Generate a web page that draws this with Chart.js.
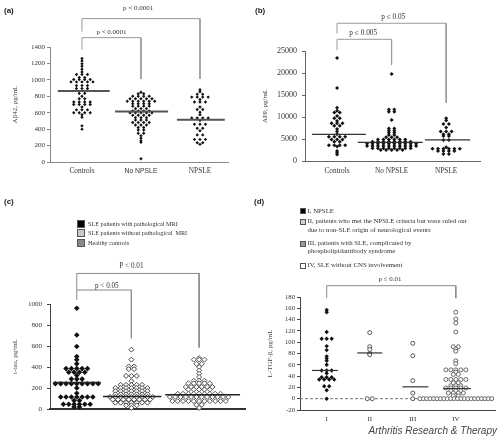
<!DOCTYPE html>
<html><head><meta charset="utf-8">
<script src="https://cdn.jsdelivr.net/npm/chart.js@4.4.1/dist/chart.umd.min.js"></script>
<style>
html,body{margin:0;padding:0;background:#fff;}
#wrap{position:relative;width:500px;height:443px;overflow:hidden;background:#fff;}
canvas{position:absolute;}
.t{position:absolute;white-space:nowrap;font-family:"Liberation Serif",serif;color:#333;line-height:1;}
.plab{position:absolute;font-family:"Liberation Sans",Arial,sans-serif;font-weight:bold;font-size:8px;color:#222;line-height:1;}
.sw{position:absolute;box-sizing:border-box;border:1px solid #555;}
.foot{position:absolute;right:3px;top:426px;font-family:"Liberation Sans",Arial,sans-serif;font-style:italic;font-size:10px;color:#444;line-height:1;white-space:nowrap;}
</style></head><body><div id="wrap">
<canvas id="ca" width="250" height="200" style="left:0;top:0"></canvas>
<canvas id="cb" width="250" height="200" style="left:250px;top:0"></canvas>
<canvas id="cc" width="250" height="243" style="left:0;top:200px"></canvas>
<canvas id="cd" width="250" height="243" style="left:250px;top:200px"></canvas>

<div class="plab" style="left:4px;top:7px">(a)</div>
<div class="plab" style="left:255px;top:7px">(b)</div>
<div class="plab" style="left:4px;top:198px">(c)</div>
<div class="plab" style="left:254px;top:198px">(d)</div>

<div class="sw" style="left:77px;top:220px;width:8px;height:8px;background:#000"></div>
<div class="t" style="left:88px;top:221px;font-size:6.2px">SLE patients with pathological MRI</div>
<div class="sw" style="left:77px;top:229px;width:8px;height:8px;background:#c8c8c8"></div>
<div class="t" style="left:88px;top:230px;font-size:6.2px">SLE patients without pathological&nbsp; MRI</div>
<div class="sw" style="left:77px;top:239px;width:8px;height:8px;background:#8a8a8a"></div>
<div class="t" style="left:88px;top:240px;font-size:6.2px">Healthy controls</div>

<div class="sw" style="left:300px;top:208px;width:6px;height:6px;background:#000"></div>
<div class="t" style="left:307.5px;top:207.5px;font-size:6.8px">I, NPSLE</div>
<div class="sw" style="left:300px;top:219px;width:6px;height:6px;background:#cfcfcf"></div>
<div class="t" style="left:307.5px;top:218px;font-size:6.8px">II, patients who met the NPSLE criteria but were ruled out</div>
<div class="t" style="left:307.5px;top:226.5px;font-size:6.8px">due to non-SLE origin of neurological events</div>
<div class="sw" style="left:300px;top:240.5px;width:6px;height:6px;background:#9a9a9a"></div>
<div class="t" style="left:307.5px;top:240px;font-size:6.8px">III, patients with SLE, complicated by</div>
<div class="t" style="left:307.5px;top:248px;font-size:6.8px">phospholipidantibody syndrome</div>
<div class="sw" style="left:300px;top:262.5px;width:6px;height:6px;background:#fff"></div>
<div class="t" style="left:307.5px;top:262px;font-size:6.8px">IV, SLE without CNS involvement</div>

<div class="foot">Arthritis Research &amp; Therapy</div>
</div>
<script>
// ---------- Panel (a): Aβ42 ----------
const aCategories = ['Controls', 'No NPSLE', 'NPSLE'];
const aYTicks = [0, 200, 400, 600, 800, 1000, 1200, 1400];
const aControls = [1260,1230,1195,1165,1130,1095,1065,1065,1065,1030,1030,1005,1005,1005,1005,975,975,975,975,975,930,930,930,895,895,895,860,860,835,835,800,770,770,730,730,730,730,700,700,700,700,670,635,635,635,600,600,600,600,575,545,440,400];
const aNoNPSLE = [850,830,830,800,800,800,800,770,770,770,770,770,740,740,740,740,740,740,710,710,710,710,680,680,680,680,650,650,650,620,620,620,620,600,600,600,600,600,570,570,570,570,540,540,540,510,510,510,480,480,480,480,450,450,450,420,420,390,390,350,350,320,290,260,240,40];
const aNPSLE = [880,855,825,825,790,790,790,790,760,730,730,730,670,640,640,605,575,535,535,535,535,505,460,460,460,410,410,380,330,330,275,275,275,235,235,215];
const aMedians = [865, 615, 515];
const aPValues = ['p < 0.0001', 'p < 0.0001'];

// ---------- Panel (b): APP ----------
const bCategories = ['Controls', 'No NPSLE', 'NPSLE'];
const bYTicks = [0, 5000, 10000, 15000, 20000, 25000];
const bControls = [23400,16600,12100,11400,11000,11000,10200,9700,9700,9100,8600,8600,8600,8000,8000,7300,6700,6100,5500,5500,5500,5500,4900,4900,4900,4400,4400,3600,3600,3600,3600,3300,2300,1900,1500];
const bNoNPSLE = [19800,11700,11700,11200,11200,9300,7400,7400,6900,6900,6400,6400,5900,5900,5400,5400,5400,4900,4900,4900,4900,4900,4900,4400,4400,4400,4400,4400,4400,4400,4400,3900,3900,3900,3900,3900,3900,3900,3900,3900,3900,3400,3400,3400,3400,3400,3400,3400,3400,3400,3400,2900,2900,2900,2900,2900,2900,2900,2900,2500,2500,2500,2500,2500];
const bNPSLE = [9700,9200,8400,8400,7600,6700,6700,6700,6100,6100,5700,5700,4800,4800,3100,2800,2800,2800,2800,2800,2800,2300,2300,2300,2300,1600,1600];
const bMedians = [6050, 4250, 4800];
const bPValues = ['p \u2264 0.05', 'p \u2264 0.005'];

// ---------- Panel (c): t-tau ----------
const cCategories = ['SLE patients with pathological MRI', 'SLE patients without pathological MRI', 'Healthy controls'];
const cYTicks = [0, 200, 400, 600, 800, 1000];
const cMRI = [960,705,595,500,470,430,385,385,385,385,385,350,350,350,350,320,285,285,285,240,240,240,240,240,240,240,240,240,200,150,115,115,115,115,115,115,115,80,80,45,45,45,45,45,45,20,20];
const cNoMRI = [565,470,405,405,380,380,315,315,315,265,230,230,230,230,230,200,200,200,200,200,200,200,170,170,170,170,170,170,170,140,140,140,140,140,140,140,115,115,115,115,115,115,115,115,115,90,90,90,90,90,90,90,90,60,60,60,60,60,60,60,35,35,35,10];
const cHealthy = [485,470,470,470,430,430,400,365,335,305,270,270,270,245,245,245,245,245,210,210,210,210,210,210,185,185,185,185,185,145,145,145,145,145,145,145,145,145,115,115,115,115,115,115,115,115,115,115,115,115,75,75,75,75,75,75,75,75,75,75,75,40,40,10];
const cMedians = [253, 120, 136];
const cPValues = ['P < 0.01', 'p < 0.05'];

// ---------- Panel (d): L-TGF-β ----------
const dCategories = ['I', 'II', 'III', 'IV'];
const dYTicks = [-20, 0, 20, 40, 60, 80, 100, 120, 140, 160, 180];
const dI = [157,153,118,106,106,106,93,86,75,71,67,60,50,50,50,45,38,38,38,34,34,34,34,22,22,15,0];
const dII = [117,92,87,80,78,0,0];
const dIII = [98,76,32,10,0];
const dIV = [153,141,134,118,92,92,88,84,67,62,51,51,51,51,51,47,43,43,34,34,34,34,34,28,28,23,23,23,19,19,19,19,19,14,14,14,10,10,10,10,5,5,0,0,0,0,0,0,0,0,0,0,0,0,0,0,0,0,0,0,0,0,0,0];
const dMedians = [50, 81, 21, 18];
const dPValues = ['p \u2264 0.01'];

// ---------- helpers ----------
// Column-scatter layout: equal values share a row and are spread sideways.
function swarm(values, pos, dx, maxW) {
  const rows = new Map();
  values.forEach(v => rows.set(v, (rows.get(v) || 0) + 1));
  const pts = [];
  rows.forEach((k, v) => {
    const step = k > 1 ? Math.min(dx, maxW / (k - 1)) : 0;
    for (let i = 0; i < k; i++) pts.push({x: pos + (i - (k - 1) / 2) * step, y: v});
  });
  return pts;
}
const serif = (size) => ({family: 'Liberation Serif', size});
const sans = (size) => ({family: 'Liberation Sans', size});

function buildPanel(canvasId, p) {
  const datasets = [];
  p.groups.forEach((g, i) => datasets.push({
    type: 'scatter', data: swarm(g.values, p.positions[i], p.dx, p.maxW),
    pointStyle: g.style, pointRadius: g.r, pointBackgroundColor: g.fill,
    pointBorderColor: g.stroke, pointBorderWidth: g.bw, clip: false, order: 2
  }));
  p.medians.forEach((m, i) => datasets.push({
    type: 'line',
    data: [{x: p.positions[i] - p.medianHalf[i][0], y: m}, {x: p.positions[i] + p.medianHalf[i][1], y: m}],
    borderColor: p.medianColor, borderWidth: p.medianWidth, pointRadius: 0, clip: false, order: 0
  }));
  p.brackets.forEach(b => datasets.push({type: 'line', data: b, borderColor: p.bracketColor, borderWidth: 1, pointRadius: 0, clip: false, order: 3}));
  (p.extraLines || []).forEach(l => datasets.push(Object.assign({type: 'line', pointRadius: 0, clip: false, order: 4}, l)));
  const textPlugin = {
    id: 'ptext_' + canvasId,
    afterDatasetsDraw(chart) {
      const ctx = chart.ctx, xs = chart.scales.x, ys = chart.scales.y;
      p.texts.forEach(t => {
        ctx.save();
        ctx.font = t.font; ctx.fillStyle = '#333';
        ctx.textAlign = 'center'; ctx.textBaseline = 'middle';
        ctx.fillText(t.text, xs.getPixelForValue(t.x), ys.getPixelForValue(t.y));
        ctx.restore();
      });
    }
  };
  new Chart(document.getElementById(canvasId), {
    type: 'scatter',
    data: {datasets},
    options: {
      responsive: false, animation: false, devicePixelRatio: 1, events: [],
      layout: {padding: p.pad},
      plugins: {legend: {display: false}, tooltip: {enabled: false}},
      scales: {
        x: {
          type: 'linear', min: p.xMin, max: p.xMax,
          afterBuildTicks: s => { s.ticks = p.positions.map(v => ({value: v})); },
          afterFit: s => { s.height = p.xHeight; },
          grid: {display: false, drawTicks: false},
          border: {display: true, color: p.xAxisColor, width: p.xAxisWidth},
          ticks: {
            display: p.showXLabels, autoSkip: false, maxRotation: 0, minRotation: 0,
            padding: p.xTickPad, color: '#333',
            font: ctx => p.xFonts[ctx.index] || p.xFonts[0],
            callback: (v, i) => p.names[i]
          }
        },
        y: {
          type: 'linear', min: p.yMin, max: p.yMax,
          afterBuildTicks: s => { s.ticks = p.yTicks.map(v => ({value: v})); },
          afterFit: s => { s.width = p.yWidth; },
          grid: {display: true, drawOnChartArea: false, drawTicks: true, tickLength: 3, tickColor: p.yAxisColor},
          border: {display: true, color: p.yAxisColor, width: 1},
          ticks: {padding: p.yTickPad, color: '#333', font: p.yFont, callback: v => String(v)},
          title: {display: true, text: p.yTitle, color: '#444', font: serif(7), padding: {top: 4, bottom: 0}}
        }
      }
    },
    plugins: [textPlugin]
  });
}

const blackMark = (values, r) => ({values, style: 'rectRot', r, fill: '#111', stroke: '#111', bw: 0});
const openMark = (values, style, r, stroke, bw) => ({values, style, r, fill: '#fff', stroke, bw});

// (a)
buildPanel('ca', {
  positions: [0, 1, 2], names: aCategories, xMin: -0.542, xMax: 2.475,
  yMin: 0, yMax: 1400, yTicks: aYTicks, yTitle: 'A\u03b242, pg/mL',
  groups: [blackMark(aControls, 1.7), blackMark(aNoNPSLE, 1.7), blackMark(aNPSLE, 1.7)],
  dx: 0.093, maxW: 1,
  medians: aMedians, medianHalf: [[0.41, 0.47], [0.44, 0.46], [0.39, 0.42]],
  medianColor: '#555', medianWidth: 2,
  brackets: [
    [{x: 0, y: 1587}, {x: 0, y: 1746}, {x: 2, y: 1746}, {x: 2, y: 1010}],
    [{x: 0, y: 1367}, {x: 0, y: 1514}, {x: 1, y: 1514}, {x: 1, y: 1010}]
  ],
  bracketColor: '#9a9a9a',
  texts: [
    {text: aPValues[0], x: 0.95, y: 1877, font: '7px "Liberation Serif"'},
    {text: aPValues[1], x: 0.5, y: 1579, font: '7px "Liberation Serif"'}
  ],
  pad: {left: 7, right: 22, top: 47, bottom: 0}, yWidth: 43, xHeight: 38,
  xAxisColor: '#888', xAxisWidth: 1, yAxisColor: '#888',
  showXLabels: true, xTickPad: 5, xFonts: [serif(7.3), sans(6.8), serif(7.3)],
  yTickPad: 2, yFont: serif(7)
});

// (b)
buildPanel('cb', {
  positions: [0, 1, 2], names: bCategories, xMin: -0.587, xMax: 2.62,
  yMin: 0, yMax: 25000, yTicks: bYTicks, yTitle: 'APP, pg/mL',
  groups: [blackMark(bControls, 2), blackMark(bNoNPSLE, 2), blackMark(bNPSLE, 2)],
  dx: 0.1, maxW: 1.1,
  medians: bMedians, medianHalf: [[0.46, 0.53], [0.62, 0.57], [0.39, 0.44]],
  medianColor: '#333', medianWidth: 1.2,
  brackets: [
    [{x: 0, y: 29000}, {x: 0, y: 31300}, {x: 2, y: 31300}, {x: 2, y: 13200}],
    [{x: 0, y: 25200}, {x: 0, y: 27660}, {x: 1, y: 27660}, {x: 1, y: 21800}]
  ],
  bracketColor: '#9a9a9a',
  texts: [
    {text: bPValues[0], x: 1.03, y: 32800, font: '7.3px "Liberation Serif"'},
    {text: bPValues[1], x: 0.48, y: 29100, font: '7.3px "Liberation Serif"'}
  ],
  pad: {left: 7, right: 20, top: 51, bottom: 0}, yWidth: 48, xHeight: 39,
  xAxisColor: '#666', xAxisWidth: 1, yAxisColor: '#666',
  showXLabels: true, xTickPad: 6, xFonts: [serif(7.3)],
  yTickPad: 5, yFont: serif(8)
});

// (c)
buildPanel('cc', {
  positions: [0, 1, 2.24], names: cCategories, xMin: -0.49, xMax: 3.08,
  yMin: 0, yMax: 1000, yTicks: cYTicks, yTitle: 't-tau, pg/mL',
  groups: [blackMark(cMRI, 2.8), openMark(cNoMRI, 'rectRot', 2.5, '#444', 1), openMark(cHealthy, 'rectRot', 2.5, '#555', 1)],
  dx: 0.098, maxW: 1.07,
  medians: cMedians, medianHalf: [[0.43, 0.44], [0.52, 0.55], [0.62, 0.75]],
  medianColor: '#222', medianWidth: 1.5,
  brackets: [
    [{x: 0, y: 1038}, {x: 0, y: 1291}, {x: 2.24, y: 1291}, {x: 2.24, y: 585}],
    [{x: 0, y: 1133}, {x: 1, y: 1133}, {x: 1, y: 674}]
  ],
  bracketColor: '#8a8a8a',
  texts: [
    {text: cPValues[0], x: 1.0, y: 1361, font: '7.2px "Liberation Serif"'},
    {text: cPValues[1], x: 0.55, y: 1171, font: '7.2px "Liberation Serif"'}
  ],
  pad: {left: 7, right: 0, top: 104, bottom: 0}, yWidth: 43, xHeight: 34,
  xAxisColor: '#333', xAxisWidth: 2, yAxisColor: '#444',
  showXLabels: false, xTickPad: 5, xFonts: [serif(7)],
  yTickPad: 5, yFont: serif(7)
});

// (d)
buildPanel('cd', {
  positions: [0, 1, 2, 3], names: dCategories, xMin: -0.62, xMax: 3.91,
  yMin: -20, yMax: 180, yTicks: dYTicks, yTitle: 'L-TGF-\u03b2, pg/mL',
  groups: [blackMark(dI, 2.2), openMark(dII, 'circle', 2, '#555', 1), openMark(dIII, 'circle', 2, '#555', 1), openMark(dIV, 'circle', 2, '#666', 1)],
  dx: 0.116, maxW: 1.67,
  medians: dMedians, medianHalf: [[0.34, 0.26], [0.29, 0.29], [0.24, 0.36], [0.3, 0.35]],
  medianColor: '#333', medianWidth: 1.2,
  brackets: [
    [{x: 0, y: 178}, {x: 0, y: 200}, {x: 3, y: 200}, {x: 3, y: 178}]
  ],
  bracketColor: '#8a8a8a',
  extraLines: [{data: [{x: -0.62, y: 0}, {x: 3.91, y: 0}], borderColor: '#777', borderWidth: 1, borderDash: [3, 2]}],
  texts: [
    {text: dPValues[0], x: 1.47, y: 211, font: '7px "Liberation Serif"'}
  ],
  pad: {left: 12, right: 5, top: 97, bottom: 0}, yWidth: 38, xHeight: 33,
  xAxisColor: '#444', xAxisWidth: 1, yAxisColor: '#444',
  showXLabels: true, xTickPad: 5, xFonts: [serif(7)],
  yTickPad: 2, yFont: serif(6.7)
});
</script>
</body></html>
